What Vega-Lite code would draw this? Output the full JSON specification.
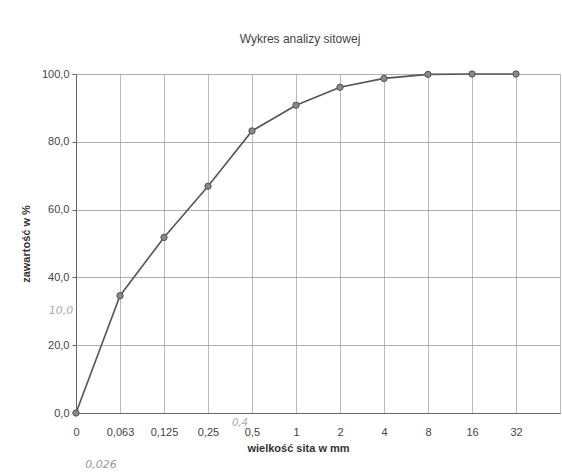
{
  "$schema": "https://vega.github.io/schema/vega-lite/v6.json",
  "width": 484,
  "height": 339,
  "autosize": "none",
  "padding": {"left": 76, "top": 74, "right": 2, "bottom": 59},
  "background": "#ffffff",
  "config": {
    "font": "Liberation Sans",
    "view": {"stroke": null},
    "axis": {"labelFont": "Liberation Sans", "titleFont": "Liberation Sans", "labelColor": "#444", "titleColor": "#333"}
  },
  "title": {"text": "Wykres analizy sitowej", "fontSize": 12, "fontWeight": "normal", "color": "#444", "offset": 22, "anchor": "middle", "dx": -18},
  "datasets": {
    "sita": [
      {"sito": "0", "zawartosc": 0.0},
      {"sito": "0,063", "zawartosc": 34.6},
      {"sito": "0,125", "zawartosc": 51.8},
      {"sito": "0,25", "zawartosc": 66.9},
      {"sito": "0,5", "zawartosc": 83.2},
      {"sito": "1", "zawartosc": 90.8},
      {"sito": "2", "zawartosc": 96.1},
      {"sito": "4", "zawartosc": 98.7},
      {"sito": "8", "zawartosc": 99.9},
      {"sito": "16", "zawartosc": 100.0},
      {"sito": "32", "zawartosc": 100.0}
    ],
    "notatki": [
      {"sito": "0,063", "zawartosc": 0, "tekst": "0,026", "nr": 1},
      {"sito": "0", "zawartosc": 30, "tekst": "10,0", "nr": 2},
      {"sito": "0,5", "zawartosc": 0, "tekst": "0,4", "nr": 3}
    ]
  },
  "encoding": {
    "x": {
      "field": "sito",
      "type": "ordinal",
      "scale": {"type": "point", "domain": ["0", "0,063", "0,125", "0,25", "0,5", "1", "2", "4", "8", "16", "32", " "], "padding": 0},
      "axis": {
        "title": "wielkość sita w mm",
        "titleFontSize": 11,
        "titleFontWeight": "bold",
        "titlePadding": 5,
        "titleX": 222,
        "labelAngle": 0,
        "labelFontSize": 11,
        "labelPadding": 13,
        "tickSize": 0,
        "domainColor": "#666",
        "grid": true,
        "gridColor": "#aaa",
        "gridWidth": 0.8
      }
    },
    "y": {
      "field": "zawartosc",
      "type": "quantitative",
      "scale": {"domain": [0, 100], "nice": false},
      "axis": {
        "title": "zawartość w %",
        "titleFontSize": 11,
        "titleFontWeight": "bold",
        "titlePadding": 10,
        "values": [0, 20, 40, 60, 80, 100],
        "labelExpr": "replace(format(datum.value, '.1f'), '.', ',')",
        "labelFontSize": 11,
        "labelPadding": 3,
        "tickSize": 4,
        "tickColor": "#666",
        "domainColor": "#666",
        "grid": true,
        "gridColor": "#999",
        "gridWidth": 0.8
      }
    }
  },
  "layer": [
    {"data": {"name": "sita"}, "mark": {"type": "line", "color": "#555", "strokeWidth": 1.6}},
    {"data": {"name": "sita"}, "mark": {"type": "point", "shape": "circle", "filled": true, "size": 40, "color": "#888", "stroke": "#555", "strokeWidth": 1, "opacity": 1}},
    {"data": {"name": "notatki"}, "transform": [{"filter": "datum.nr == 1"}], "mark": {"type": "text", "font": "DejaVu Sans", "fontSize": 11, "fontStyle": "italic", "color": "#999", "align": "center", "baseline": "middle", "dx": -19, "dy": 52}, "encoding": {"text": {"field": "tekst"}}},
    {"data": {"name": "notatki"}, "transform": [{"filter": "datum.nr == 2"}], "mark": {"type": "text", "font": "DejaVu Sans", "fontSize": 11, "fontStyle": "italic", "color": "#aaa", "align": "center", "baseline": "middle", "dx": -15}, "encoding": {"text": {"field": "tekst"}}},
    {"data": {"name": "notatki"}, "transform": [{"filter": "datum.nr == 3"}], "mark": {"type": "text", "font": "DejaVu Sans", "fontSize": 10, "fontStyle": "italic", "color": "#aaa", "align": "center", "baseline": "middle", "dx": -12, "dy": 10}, "encoding": {"text": {"field": "tekst"}}}
  ]
}
